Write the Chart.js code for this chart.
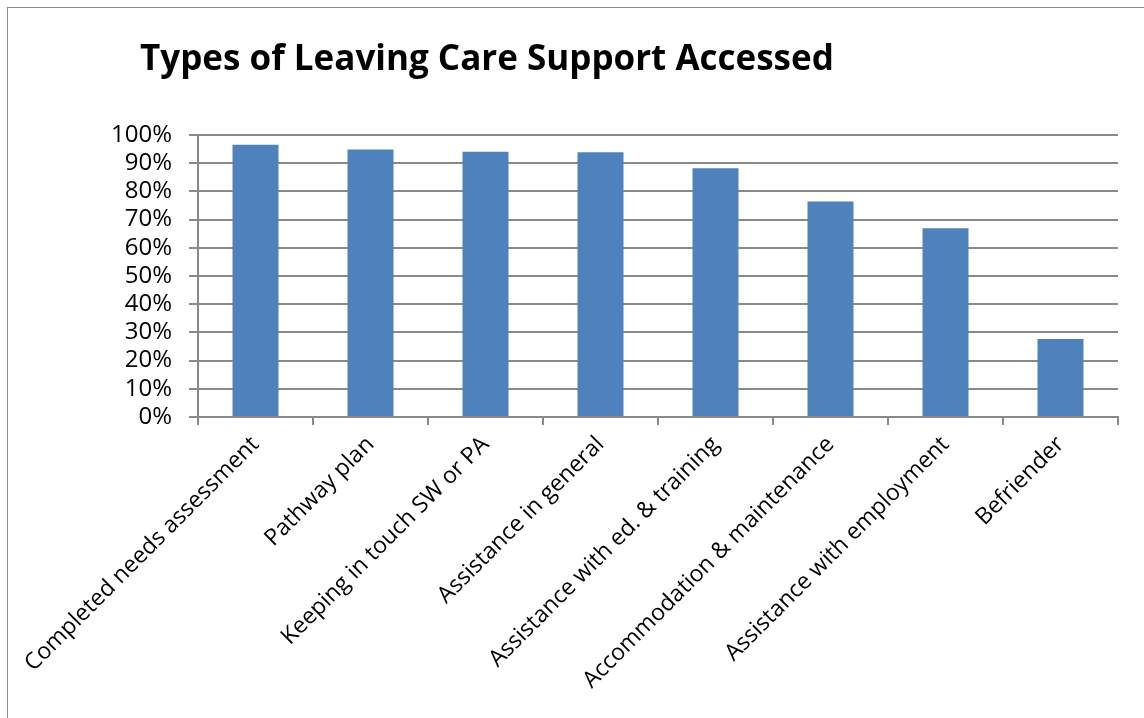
<!DOCTYPE html>
<html>
<head>
<meta charset="utf-8">
<script src="https://cdn.jsdelivr.net/npm/chart.js@4/dist/chart.umd.min.js"></script>
<style>
  html, body { margin: 0; padding: 0; background: #fff; overflow: hidden; }
  #wrap { position: relative; width: 1144px; height: 718px; }
  #frame {
    position: absolute; left: 7px; top: 7px; width: 1200px; height: 800px;
    border-left: 1px solid #8a8a8a; border-top: 1px solid #8a8a8a;
  }
  canvas { position: absolute; left: 0; top: 0; }
</style>
</head>
<body>
<div id="wrap">
  <div id="frame"></div>
  <canvas id="myChart" width="1144" height="718"></canvas>
</div>
<script>
const categories = [
  'Completed needs assessment',
  'Pathway plan',
  'Keeping in touch SW or PA',
  'Assistance in general',
  'Assistance with ed. & training',
  'Accommodation & maintenance',
  'Assistance with employment',
  'Befriender'
];
const accessed = [96.5, 94.9, 94.1, 93.9, 88.2, 76.4, 66.9, 27.7];  // percent
const yTicks = [0, 10, 20, 30, 40, 50, 60, 70, 80, 90, 100];

const gridGrey = '#8a8a8a';
const fontFamily = '"Open Sans", Lato, sans-serif';

// the title plugin puts a start-aligned title at the layout padding edge,
// shift it over to where the reference has it
const titleShift = {
  id: 'titleShift',
  afterLayout(chart) {
    if (chart.titleBlock) {
      chart.titleBlock.left = 140;
    }
  }
};

const ctx = document.getElementById('myChart');
const data = {
  labels: categories,
  datasets: [{
    label: 'Accessed',
    data: accessed,
    backgroundColor: '#4f81bd',
    borderWidth: 0,
    barPercentage: 0.8,
    categoryPercentage: 0.5
  }]
};
const config = {
  type: 'bar',
  data: data,
  plugins: [titleShift],
  options: {
    responsive: false,
    animation: false,
    layout: {padding: {left: 60, right: 26, top: 0, bottom: 0}},
    plugins: {
      legend: {display: false},
      tooltip: {enabled: false},
      title: {
        display: true,
        text: 'Types of Leaving Care Support Accessed',
        align: 'start',
        color: '#000',
        font: {family: fontFamily, size: 35, weight: 'bold', lineHeight: 1.2},
        padding: {top: 39, bottom: 54}
      }
    },
    scales: {
      x: {
        grid: {
          display: true, drawOnChartArea: false, drawTicks: true,
          offset: true, tickLength: 8, color: gridGrey, lineWidth: 2
        },
        border: {display: true, color: gridGrey, width: 2},
        ticks: {
          autoSkip: false, minRotation: 45, maxRotation: 45,
          color: '#000', padding: 6,
          font: {family: fontFamily, size: 23}
        },
        afterFit: (scale) => {
          scale.height = 301;
          scale.paddingLeft = 0;
        }
      },
      y: {
        min: 0, max: 100,
        afterBuildTicks: (scale) => {
          scale.ticks = yTicks.map((v) => ({value: v}));
        },
        grid: {color: gridGrey, lineWidth: 2, tickLength: 9},
        border: {display: true, color: gridGrey, width: 2},
        ticks: {
          autoSkip: false, color: '#000', padding: 17,
          font: {family: fontFamily, size: 24},
          callback: (v) => v + '%'
        },
        afterFit: (scale) => { scale.width = 138; }
      }
    }
  }
};
const chart = new Chart(ctx, config);
</script>
</body>
</html>
